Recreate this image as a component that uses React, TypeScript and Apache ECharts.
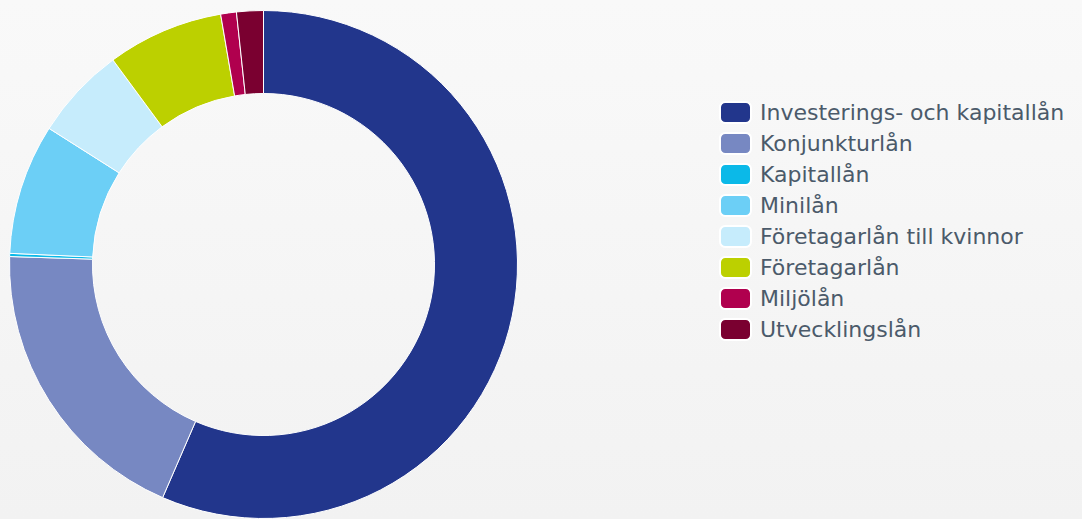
import React, { useEffect, useRef } from "react";
import * as echarts from "echarts";

const categories = [
  "Investerings- och kapitallån",
  "Konjunkturlån",
  "Kapitallån",
  "Minilån",
  "Företagarlån till kvinnor",
  "Företagarlån",
  "Miljölån",
  "Utvecklingslån",
];
const values = [56.5, 19.0, 0.2, 8.3, 5.9, 7.4, 1.0, 1.7];
const colors = [
  "#22368c",
  "#7788c2",
  "#0bb9e8",
  "#6ccff6",
  "#c6ecfc",
  "#bcd000",
  "#b0004e",
  "#7a0030",
];

export default function App() {
  const ref = useRef<HTMLDivElement>(null);
  useEffect(() => {
    if (!ref.current) return;
    const chart = echarts.init(ref.current, undefined, { renderer: "svg" });
    chart.setOption({
      animation: false,
      backgroundColor: new echarts.graphic.LinearGradient(0, 0, 0, 1, [
        { offset: 0, color: "#f9f9f9" },
        { offset: 1, color: "#f2f2f2" },
      ]),
      color: colors,
      legend: {
        orient: "vertical",
        left: 719,
        top: 101,
        padding: 0,
        icon: "roundRect",
        itemWidth: 31,
        itemHeight: 21,
        itemGap: 8,
        textStyle: {
          fontFamily: "DejaVu Sans",
          fontSize: 22,
          lineHeight: 21,
          color: "#4b5a6a",
          padding: [0, 0, 0, 4],
        },
        data: categories,
      },
      series: [
        {
          type: "pie",
          center: [263.5, 264.5],
          radius: [171, 254],
          startAngle: 90,
          clockwise: true,
          label: { show: false },
          labelLine: { show: false },
          emphasis: { disabled: true },
          itemStyle: { borderColor: "#ffffff", borderWidth: 1 },
          data: categories.map((name, i) => ({ name, value: values[i] })),
        },
      ],
    });
    return () => chart.dispose();
  }, []);
  return (
    <div
      ref={ref}
      style={{ position: "fixed", left: 0, top: 0, width: 1082, height: 519 }}
    />
  );
}
